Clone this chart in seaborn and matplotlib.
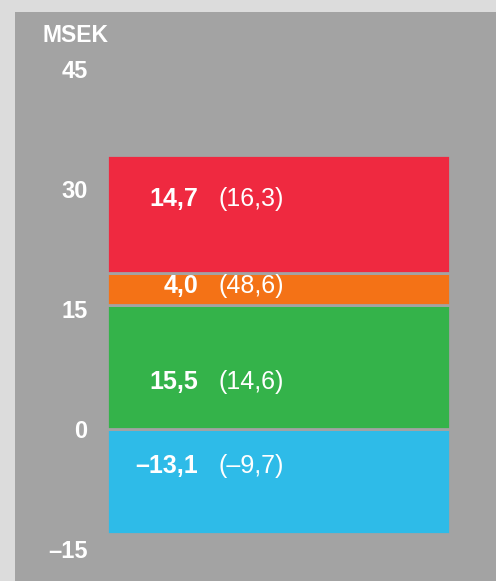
import numpy as np
import pandas as pd
import matplotlib
matplotlib.use('Agg')
import matplotlib.pyplot as plt
import seaborn as sns
from matplotlib.patches import Rectangle

# segments from bottom to top
segments = ['Blue', 'Green', 'Orange', 'Red']
values = [-13.1, 15.5, 4.0, 14.7]
bottoms = [0.0, 0.0, 15.5, 19.5]
prev_values = ['(–9,7)', '(14,6)', '(48,6)', '(16,3)']
value_labels = ['–13,1', '15,5', '4,0', '14,7']
label_y = [-4.65, 5.9, 17.9, 28.7]
colors = ['#2ebbe8', '#34b34a', '#f47216', '#ef2940']
yticks = [-15, 0, 15, 30, 45]
ytick_labels = ['–15', '0', '15', '30', '45']

panel = '#a3a3a3'
sns.set_theme(style='white')
plt.rcParams['font.family'] = ['Liberation Sans', 'DejaVu Sans']

W, H = 496, 581
fig = plt.figure(figsize=(W / 100, H / 100), dpi=100)
fig.patch.set_facecolor('#dcdcdc')
fig.patches.append(Rectangle((15 / W, 0), 1 - 15 / W, 1 - 12 / H,
                             transform=fig.transFigure, facecolor=panel,
                             edgecolor='none', zorder=-10))

# axes placed so bar spans px 107..450 and y -15..45 spans px 549..69
ax = fig.add_axes([107 / W, (H - 549) / H, 343 / W, 480 / H])
ax.set_facecolor('none')
ax.set_zorder(5)

for i in range(len(segments)):
    df = pd.DataFrame({'cat': ['a'], 'val': [values[i]]})
    sns.barplot(data=df, x='cat', y='val', color=colors[i], bottom=bottoms[i],
                width=1.0, saturation=1, edgecolor=panel, linewidth=2.0, ax=ax)
    ax.text(-0.235, label_y[i], value_labels[i], ha='right', va='center',
            color='white', fontsize=18, fontweight='bold')
    ax.text(-0.175, label_y[i], prev_values[i], ha='left', va='center',
            color='white', fontsize=18)

ax.set_xlim(-0.5, 0.5)
ax.set_ylim(-15, 45)
ax.set_xlabel('')
ax.set_ylabel('')
ax.set_xticks([])
ax.set_yticks(yticks)
ax.set_yticklabels(ytick_labels, color='white', fontsize=17, fontweight='bold')
ax.tick_params(axis='y', length=0, pad=14)
for s in ax.spines.values():
    s.set_visible(False)

fig.text(42 / W, 1 - 36 / H, 'MSEK', color='white', fontsize=16.5,
         fontweight='bold', ha='left', va='center')

fig.savefig('out.png', dpi=100)
